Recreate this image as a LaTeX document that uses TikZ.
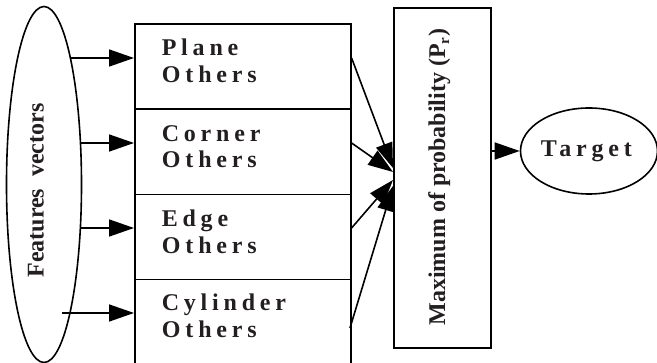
\documentclass[tikz,border=0pt]{standalone}
\usepackage{fontspec}
\setmainfont{Liberation Serif}
\newfontfamily\spacedfam[LetterSpace=20]{Liberation Serif}
\usetikzlibrary{arrows.meta,shapes.geometric}
\definecolor{ink}{RGB}{35,31,32}
\newcommand\spacedbold{\spacedfam\bfseries\fontsize{24}{27}\selectfont}
\newcommand\plainbold{\bfseries\fontsize{24}{27}\selectfont}
\begin{document}
\begin{tikzpicture}[x=1pt,y=-1pt,line width=1.6pt,
  tip/.style={-{Triangle[length=25pt,width=17pt]}},
  classbox/.style={draw,rectangle,minimum width=216pt,minimum height=85.3pt,inner sep=0,anchor=north west},
  lbl/.style={font=\spacedbold,text=ink,anchor=base west,inner sep=0},
  rlbl/.style={font=\plainbold,text=ink,rotate=90,anchor=base,inner sep=0}]
\useasboundingbox (0,0) rectangle (657,363);

% input features
\node[draw,ellipse,minimum width=75pt,minimum height=356pt,inner sep=0] (fv) at (44,184.5) {};
\node[rlbl] (fvl) at (43.5,190.5) {Features\hspace{0.25em} vectors};

% class boxes
\node[classbox] (b1) at (134,23) {};
\node[classbox] (b2) at (134,108.3) {};
\node[classbox] (b3) at (134,193.6) {};
\node[classbox] (b4) at (134,278.9) {};

\node[lbl] (l1a) at (161,56) {Plane};
\node[lbl] (l1b) at (161,83) {O\kern5pt thers};
\node[lbl] (l2a) at (161,141.5) {Corner};
\node[lbl] (l2b) at (161,168) {O\kern5pt thers};
\node[lbl] (l3a) at (161,226.5) {Edge};
\node[lbl] (l3b) at (161,254) {O\kern5pt thers};
\node[lbl] (l4a) at (161,311) {Cylinder};
\node[lbl] (l4b) at (161,338) {O\kern5pt thers};

% decision box
\node[draw,rectangle,minimum width=97pt,minimum height=340pt,inner sep=0,anchor=north west] (mx) at (393,7) {};
\node[rlbl] (mxl) at (445,177) {Maximum of probability (P\raisebox{-4pt}{\fontsize{15}{15}\selectfont r}\kern1pt)};

% output
\node[draw,ellipse,minimum width=137pt,minimum height=86pt,inner sep=0] (tg) at (589,151) {};
\node[lbl] (tgl) at (540,157) {Target};

% feature arrows
\coordinate (s1) at (70,58);
\coordinate (s2) at (80,143);
\coordinate (s3) at (80,228);
\coordinate (s4) at (62,313);
\draw[tip] (s1) -- (s1 -| b1.west);
\draw[tip] (s2) -- (s2 -| b2.west);
\draw[tip] (s3) -- (s3 -| b3.west);
\draw[tip] (s4) -- (s4 -| b4.west);

% class outputs converging on the decision box
\coordinate (r4) at (350,328);
\coordinate (t1) at (393,168);
\coordinate (t2) at (393,172);
\coordinate (t3) at (393,180);
\coordinate (t4) at (393,186);
\draw[tip] (s1 -| b1.east) -- (t1);
\draw[tip] (s2 -| b2.east) -- (t2);
\draw[tip] (s3 -| b3.east) -- (t3);
\draw[tip] (r4) -- (t4);

\draw[tip] (mx.east |- tg.west) -- (tg.west);
\end{tikzpicture}
\end{document}
